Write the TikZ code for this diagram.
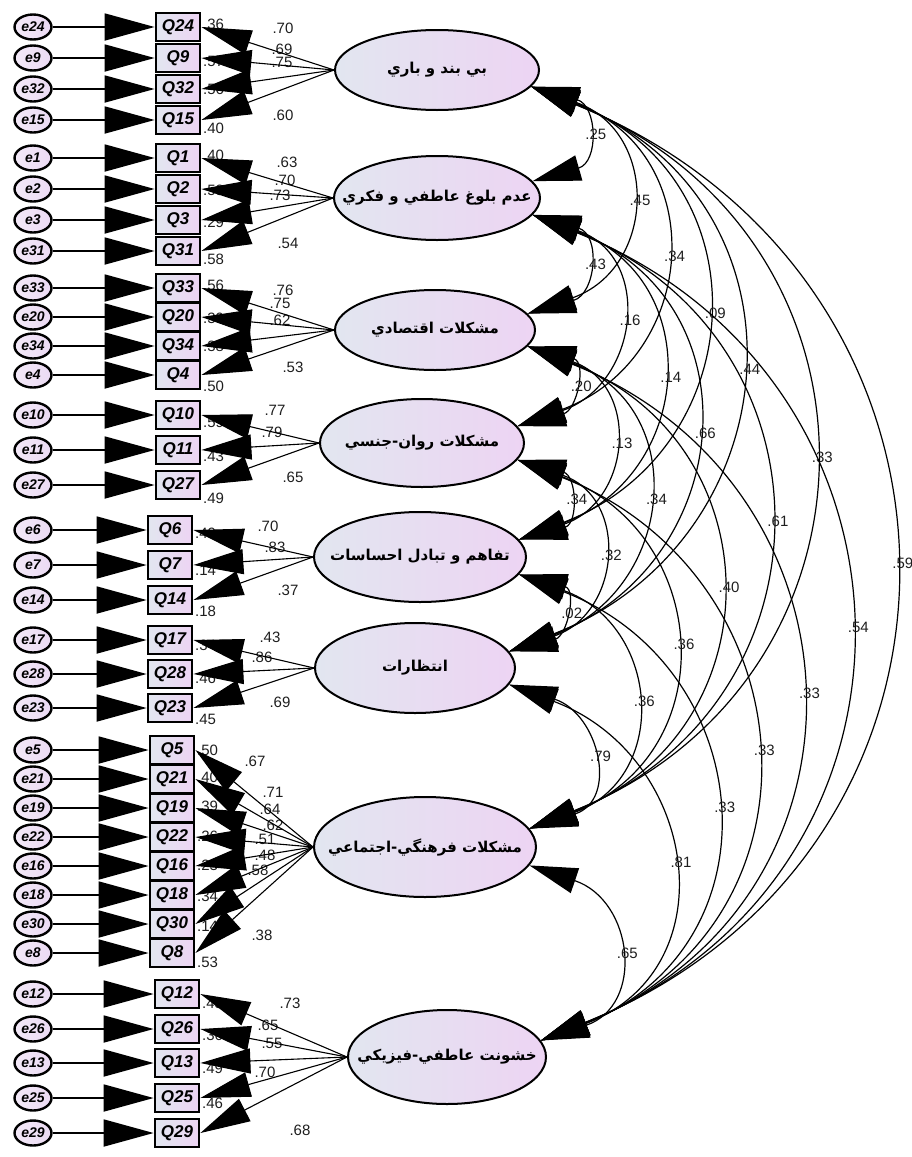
\documentclass[tikz,border=0pt]{standalone}
\usepackage{fontspec}
\setmainfont{Liberation Sans}
\newfontfamily\arabicfont[Script=Arabic]{DejaVu Sans}
\TeXXeTstate=1
\usepackage{tikz}
\usetikzlibrary{calc,arrows.meta,shapes.geometric}
\definecolor{lavleft}{HTML}{E2E6F0}
\definecolor{lavright}{HTML}{EDD4F3}
\definecolor{errfill}{HTML}{EBDAF3}
\definecolor{numtext}{HTML}{1E1E1E}
\tikzset{
  latent/.style={ellipse, draw=black, line width=2pt, inner xsep=-32pt, inner ysep=0pt, left color=lavleft, right color=lavright, font=\arabicfont\bfseries\fontsize{15}{17}\selectfont},
  item/.style={rectangle, draw=black, line width=2.8pt, inner sep=0pt, minimum width=44pt, minimum height=28pt, left color=lavleft, right color=lavright, font=\bfseries\itshape\fontsize{17}{19}\selectfont},
  err/.style={ellipse, draw=black, line width=2.4pt, inner sep=0pt, minimum width=37pt, minimum height=25pt, left color=errfill!60!white, right color=errfill, font=\bfseries\itshape\fontsize{14}{16}\selectfont},
  errarrow/.style={draw=black, line width=1.8pt, -{Triangle[length=50pt,width=27pt]}},
  loadarrow/.style={draw=black, line width=1.1pt, -{Triangle[length=50pt,width=25pt]}},
  corrarrow/.style={draw=black, line width=1.2pt, {Triangle[length=48pt,width=26pt]}-{Triangle[length=48pt,width=26pt]}},
  num/.style={text=numtext, inner sep=0pt, font=\fontsize{15}{17}\selectfont},
}

\begin{document}
\begin{tikzpicture}[x=1pt,y=-1pt]
\useasboundingbox (0,0) rectangle (912,1157);

% latent factors
\foreach \k/\x/\y/\w/\h/\t in {
  1/437/70/204/80/{بي بند و باري},
  2/437/198/206/84/{عدم بلوغ عاطفي و فكري},
  3/435/330/200/80/{مشكلات اقتصادي},
  4/422/443/204/88/{مشكلات روان-جنسي},
  5/420/557/212/90/{تفاهم و تبادل احساسات},
  6/415/668/200/90/{انتظارات},
  7/425/847/222/100/{مشكلات فرهنگي-اجتماعي},
  8/447/1057/198/94/{خشونت عاطفي-فيزيكي}}
  \node[latent, minimum width=\w pt, minimum height=\h pt] (F\k) at (\x,\y) {\beginR\t\endR};

% items of F1 to F4
\foreach \q/\y/\r/\ry/\l/\lx/\ly in {24/27/.36/24/.70/283/28, 9/58/.57/61/.69/282/49,
    32/89/.56/89/.75/282/62, 15/120/.40/128/.60/283/115,
    1/158/.40/155/.63/287/162, 2/189/.53/190/.70/285/180,
    3/220/.29/222/.73/280/195, 31/251/.58/259/.54/288/243,
    33/288/.56/285/.76/283/290, 20/317/.39/318/.75/280/303,
    34/346/.38/346/.62/280/320, 4/375/.50/386/.53/293/367,
    10/415/.59/422/.77/275/410, 11/450/.43/456/.79/272/432,
    27/485/.49/498/.65/293/477}{
  \node[err] (e\q) at (33,\y) {e\q};
  \node[item] (Q\q) at (178,\y) {Q\q};
  \node[num, anchor=west] (r\q) at (203,\ry) {\r};
  \node[num] (l\q) at (\lx,\ly) {\l};
}

% items of F5 and F6
\foreach \q/\y/\r/\ry/\l/\lx/\ly in {6/530/.49/533/.70/268/526, 7/565/.14/570/.83/275/547,
    14/600/.18/611/.37/288/590, 17/640/.34/645/.43/270/637,
    28/674/.46/678/.86/262/657, 23/708/.45/719/.69/280/702}{
  \node[err] (e\q) at (33,\y) {e\q};
  \node[item] (Q\q) at (170,\y) {Q\q};
  \node[num, anchor=west] (r\q) at (195,\ry) {\r};
  \node[num] (l\q) at (\lx,\ly) {\l};
}

% items of F7
\foreach \q/\y/\r/\ry/\l/\lx/\ly in {5/750/.50/750/.67/255/761, 21/779/.40/777/.71/273/792,
    19/808/.39/806/.64/270/809, 22/837/.26/836/.62/273/825,
    16/866/.23/865/.51/265/839, 18/895/.34/896/.48/265/855,
    30/924/.14/926/.58/258/870, 8/953/.53/962/.38/262/935}{
  \node[err] (e\q) at (33,\y) {e\q};
  \node[item] (Q\q) at (172,\y) {Q\q};
  \node[num, anchor=west] (r\q) at (197,\ry) {\r};
  \node[num] (l\q) at (\lx,\ly) {\l};
}

% items of F8
\foreach \q/\y/\r/\ry/\l/\lx/\ly in {12/994/.43/1003/.73/290/1003, 26/1029/.36/1035/.65/268/1025,
    13/1063/.49/1068/.55/272/1043, 25/1098/.46/1103/.70/265/1072}{
  \node[err] (e\q) at (33,\y) {e\q};
  \node[item] (Q\q) at (177,\y) {Q\q};
  \node[num, anchor=west] (r\q) at (202,\ry) {\r};
  \node[num] (l\q) at (\lx,\ly) {\l};
}
\node[err] (e29) at (33,1133) {e29};
\node[item] (Q29) at (177,1133) {Q29};
\node[num] (l29) at (300,1130) {.68};

% error and loading paths
\foreach \f/\qs in {1/{24,9,32,15}, 2/{1,2,3,31}, 3/{33,20,34,4}, 4/{10,11,27},
    5/{6,7,14}, 6/{17,28,23}, 7/{5,21,19,22,16,18,30,8}, 8/{12,26,13,25,29}}
  \foreach \q in \qs {
    \draw[errarrow] (e\q) -- (Q\q);
    \draw[loadarrow] (F\f.west) -- (Q\q.east);
  }

% correlations
\foreach \i/\j/\c in {1/2/.25, 1/3/.45, 1/4/.34, 1/5/.09, 1/6/.44, 1/7/.33, 1/8/.59,
    2/3/.43, 2/4/.16, 2/5/.14, 2/6/.66, 2/7/.61, 2/8/.54,
    3/4/.20, 3/5/.13, 3/6/.34, 3/7/.40, 3/8/.33,
    4/5/.34, 4/6/.32, 4/7/.36, 4/8/.33,
    5/6/.02, 5/7/.36, 5/8/.33,
    6/7/.79, 6/8/.81, 7/8/.65}
  \draw[corrarrow] let \p1=(F\i.-10), \p2=(F\j.10),
      \n1={0.47*(\y1-\y2)+22pt}, \n2={0.2*(\y1-\y2)} in
    (\p1) .. controls +(\n1,-\n2) and +(\n1,\n2) .. (\p2)
    node[num, pos=0.5, anchor=west, xshift=3pt] (c\i\j) {\c};
\end{tikzpicture}
\end{document}
